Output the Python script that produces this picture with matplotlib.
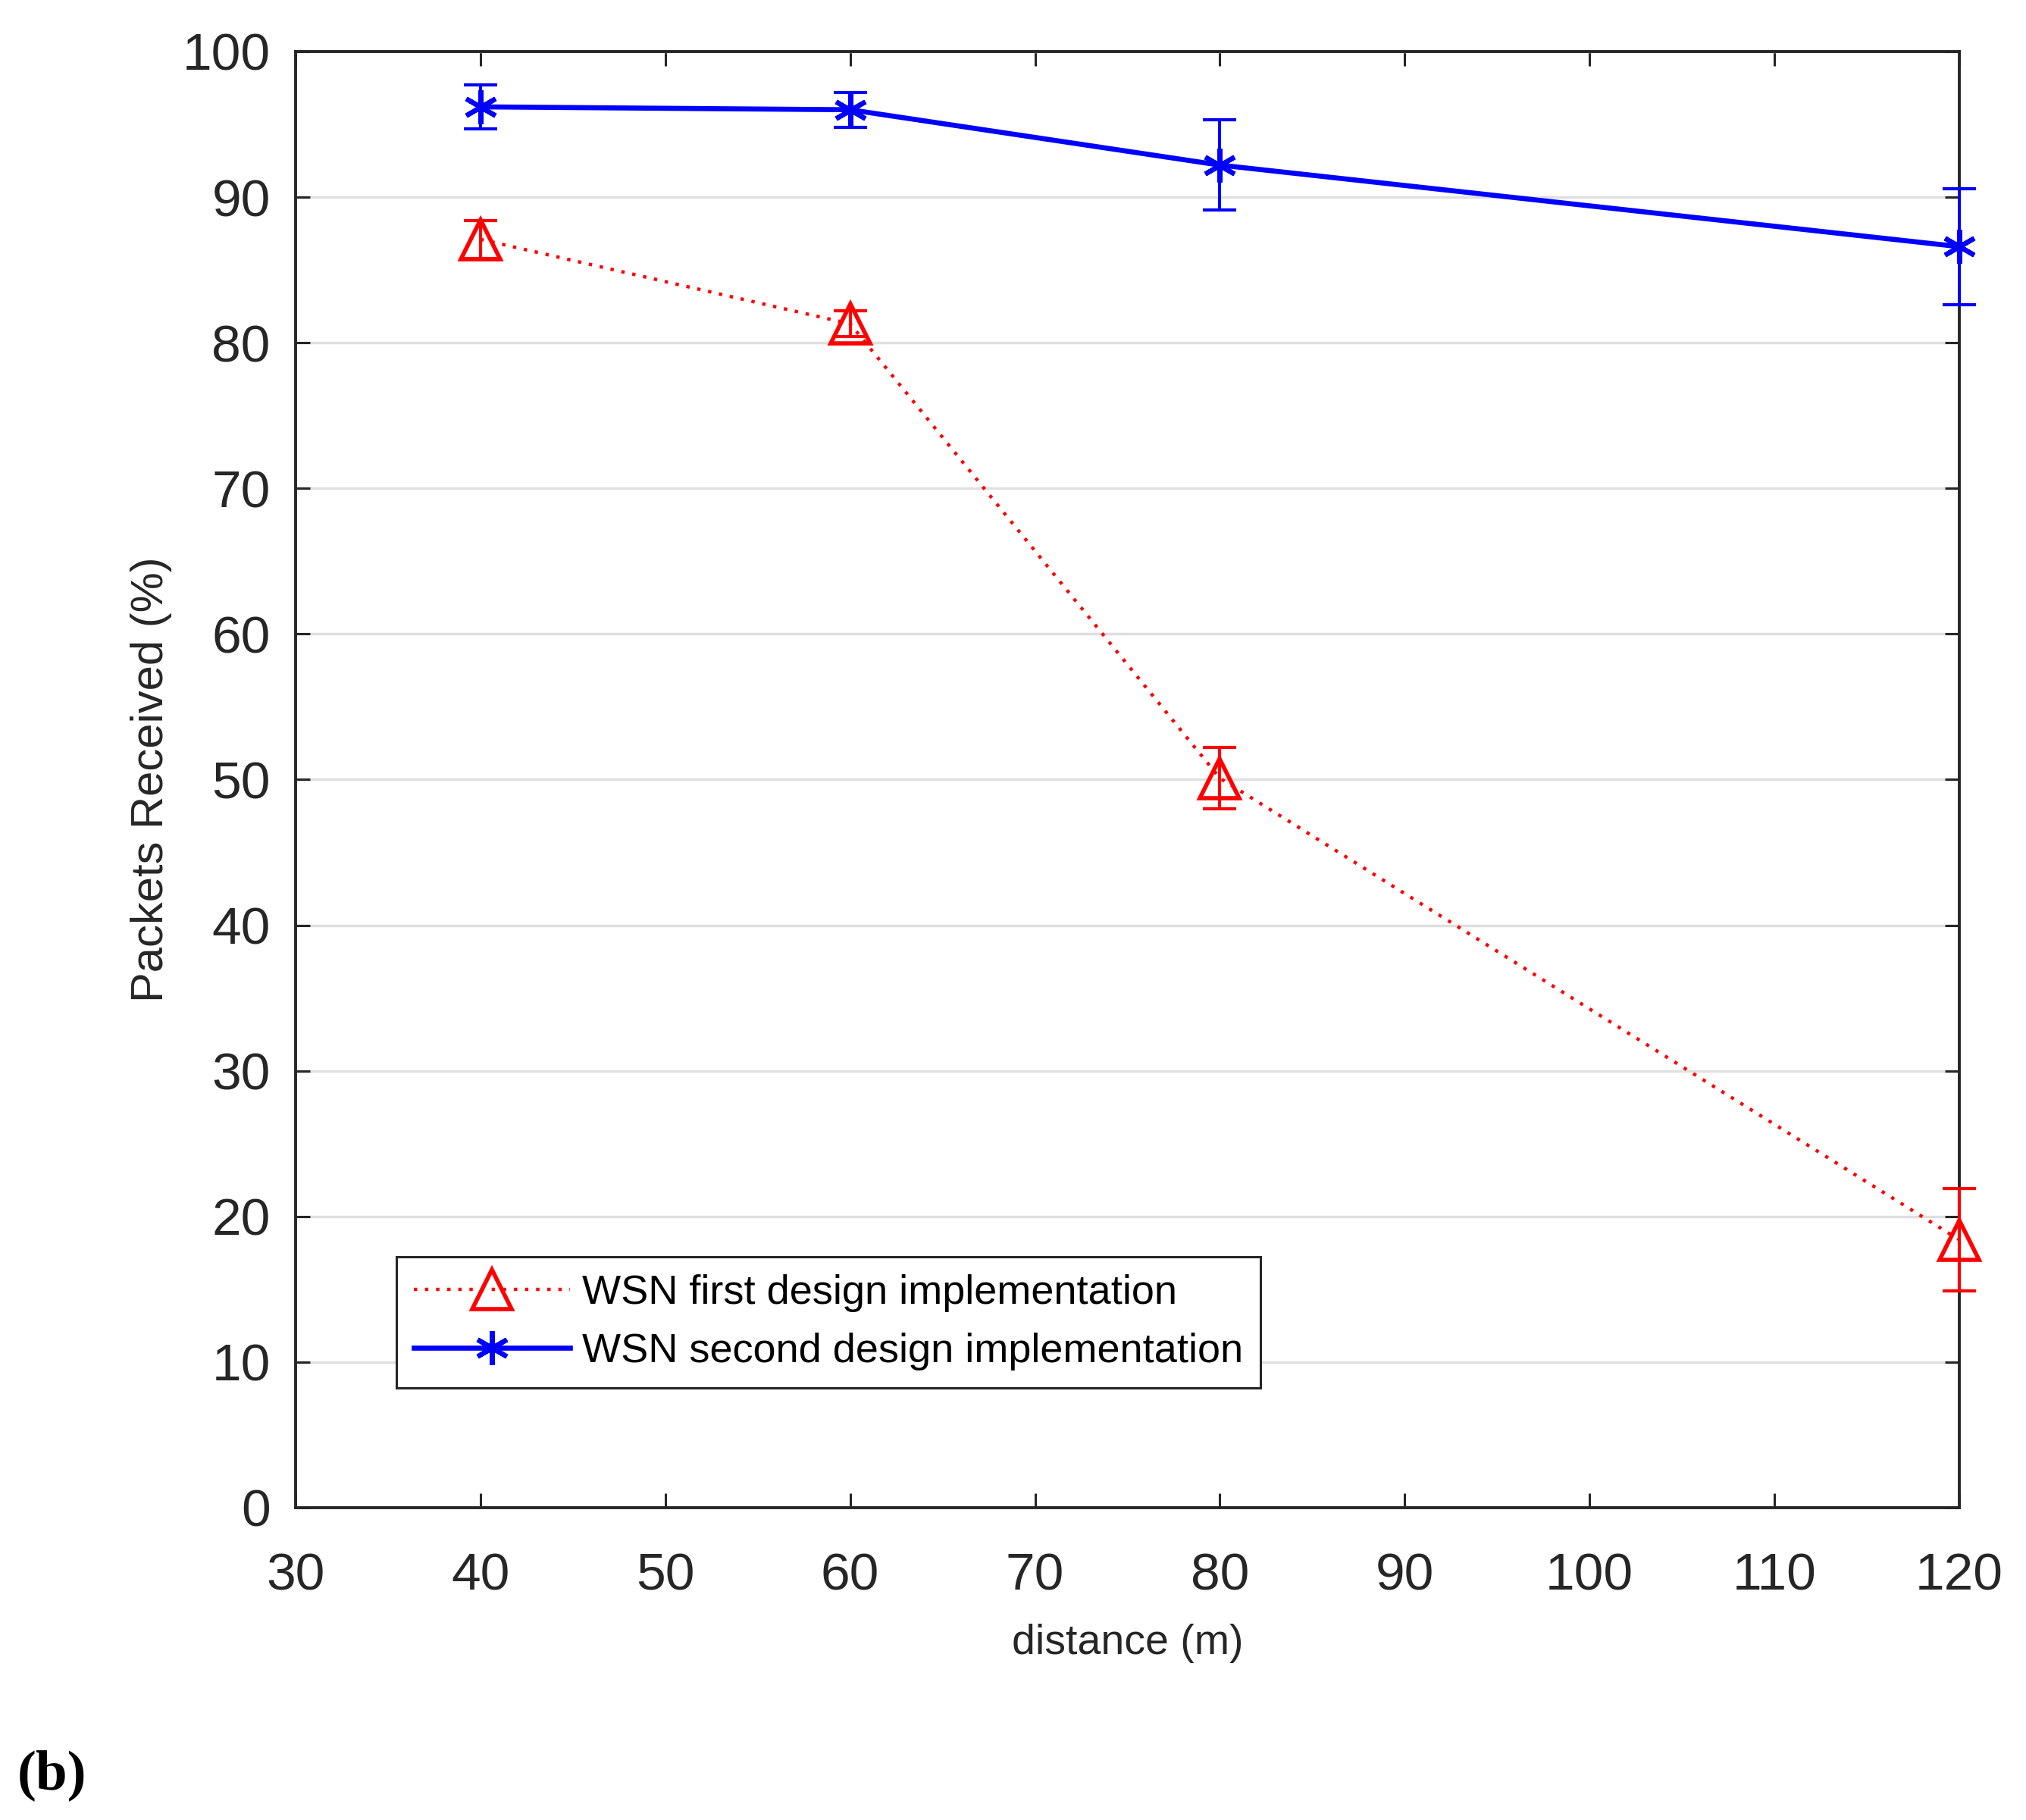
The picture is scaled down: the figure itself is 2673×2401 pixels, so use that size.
import matplotlib
matplotlib.use('Agg')
import matplotlib.pyplot as plt
import numpy as np

# values
distance = [40, 60, 80, 120]
first_design = [87.1, 81.3, 50.1, 18.4]
first_err = [1.3, 0.9, 2.1, 3.5]
second_design = [96.2, 96.0, 92.2, 86.6]
second_err = [1.5, 1.2, 3.1, 4.0]

x_ticks = [30, 40, 50, 60, 70, 80, 90, 100, 110, 120]
y_ticks = [0, 10, 20, 30, 40, 50, 60, 70, 80, 90, 100]

labels = ['WSN first design implementation', 'WSN second design implementation']

plt.rcParams['font.family'] = ['Liberation Sans', 'DejaVu Sans']
dark = '#262626'

fig = plt.figure(figsize=(26.73, 24.01), dpi=100)
ax = fig.add_axes([0.1459, 0.1716, 0.8212, 0.8001])

# error bars
eb1 = ax.errorbar(distance, first_design, yerr=first_err, fmt='none', ecolor='#ff0000',
                  elinewidth=3, capsize=16, capthick=3, zorder=3)
eb2 = ax.errorbar(distance, second_design, yerr=second_err, fmt='none', ecolor='#0000ff',
                  elinewidth=2.8, capsize=16, capthick=3, zorder=3)
for eb in (eb1, eb2):
    for part in eb.lines:
        for artist in (part if isinstance(part, tuple) else [part]):
            if artist is not None:
                artist.set_clip_on(False)

# lines with markers
l1, = ax.plot(distance, first_design, color='#ff0000', linestyle=(0, (1, 2.3)), lw=3.2,
              marker='^', markersize=38, markerfacecolor='none', markeredgewidth=4,
              zorder=4, clip_on=False)
l2, = ax.plot(distance, second_design, color='#0000ff', linestyle='-', lw=4.8,
              marker=(6, 2, 0), markersize=32, markeredgewidth=4.5, zorder=4,
              clip_on=False)

ax.set_xlim(30, 120)
ax.set_ylim(0, 100)
ax.set_xticks(x_ticks)
ax.set_yticks(y_ticks)

ax.grid(axis='y', color='#e0e0e0', lw=2.5)
ax.set_axisbelow(True)

for s in ax.spines.values():
    s.set_linewidth(2.8)
    s.set_color(dark)

ax.tick_params(axis='both', which='major', direction='in', length=14, width=2.2,
               colors=dark, labelsize=50, top=True, right=True)
ax.tick_params(axis='x', pad=42)
ax.tick_params(axis='y', pad=24)

ax.set_xlabel('distance (m)', fontsize=40, color=dark, labelpad=22)
ax.set_ylabel('Packets Received (%)', fontsize=43, color=dark, labelpad=10)

leg = ax.legend([l1, l2], labels, loc='lower left', bbox_to_anchor=(0.0606, 0.0822),
                borderaxespad=0, fontsize=39, frameon=True, fancybox=False,
                edgecolor=dark, framealpha=1, handlelength=3.8, handletextpad=0.3,
                labelspacing=0.5, borderpad=0.42)
leg.get_frame().set_linewidth(2.2)

fig.text(0.0086, 0.0246, '(b)', fontsize=54, fontweight='bold',
         family=['Liberation Serif', 'DejaVu Serif'], ha='left', va='center')

fig.savefig('out.png', dpi=100)
